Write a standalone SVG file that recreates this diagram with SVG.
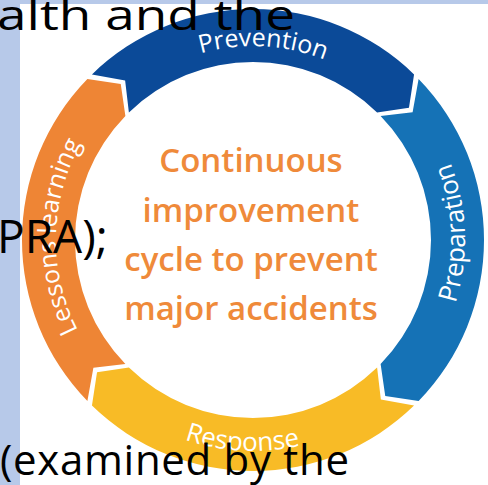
<svg xmlns="http://www.w3.org/2000/svg" width="488" height="485" viewBox="0 0 488 485">
  <style>
    .slide { font-family: "Open Sans", "Noto Sans", sans-serif; font-size: 42px; fill: #000; }
    .label { font-family: "Open Sans", "Noto Sans", sans-serif; font-size: 25px; fill: #fff; }
    .label.wide { font-size: 26px; }
    .centre { font-family: "Open Sans", "Noto Sans", sans-serif; font-size: 33px; font-weight: 600; fill: #EF8A3A; text-anchor: middle; }
  </style>
  <defs>
    <!-- one quarter of the ring, -135deg to -45deg, notched start and pointed end -->
    <path id="seg" d="M -161.05 -165.61 A 231 231 0 0 1 161.05 -165.61 L 155.97 -132.25 L 124.10 -127.61 A 178 178 0 0 0 -124.10 -127.61 L -127.86 -159.60 Z"/>
    <!-- label baselines -->
    <path id="arc-prevention" d="M -192.11 -27.00 A 194 194 0 0 1 193.88 -6.77"/>
    <path id="arc-preparation" d="M 25.84 210.42 A 212 212 0 0 0 11.10 -211.71"/>
    <path id="arc-response" d="M -210.87 7.36 A 211 211 0 0 0 208.95 29.36"/>
    <path id="arc-lessons" d="M -20.59 195.92 A 197 197 0 0 1 -13.74 -196.52"/>
  </defs>

  <!-- slide background -->
  <rect width="488" height="485" fill="#fff"/>
  <rect x="0" y="0" width="20" height="485" fill="#B7C9E9"/>
  <rect x="0" y="0" width="488" height="4" fill="#B7C9E9"/>

  <g id="cycle" transform="translate(253,240)">
    <g id="node-prevention">
      <use href="#seg" fill="#0B4A98"/>
      <text class="label"><textPath href="#arc-prevention" startOffset="50%" text-anchor="middle">Prevention</textPath></text>
    </g>
    <g id="node-preparation">
      <use href="#seg" fill="#1572B6" transform="rotate(90)"/>
      <text class="label wide"><textPath href="#arc-preparation" startOffset="50%" text-anchor="middle">Preparation</textPath></text>
    </g>
    <g id="node-response">
      <use href="#seg" fill="#F8BB26" transform="rotate(180)"/>
      <text class="label wide"><textPath href="#arc-response" startOffset="50%" text-anchor="middle">Response</textPath></text>
    </g>
    <g id="node-lessons">
      <use href="#seg" fill="#EE8535" transform="rotate(270)"/>
      <text class="label"><textPath href="#arc-lessons" startOffset="50%" text-anchor="middle">Lessons learning</textPath></text>
    </g>
    <g id="node-centre">
      <text class="centre" x="-2" y="-68">Continuous</text>
      <text class="centre" x="-2" y="-18">improvement</text>
      <text class="centre" x="-2" y="31">cycle to prevent</text>
      <text class="centre" x="-2" y="80">major accidents</text>
    </g>
  </g>

  <g id="connectors"/>

  <!-- slide text lying over the figure -->
  <g id="slide-text">
    <text class="slide" x="-3" y="30" textLength="298" lengthAdjust="spacingAndGlyphs">alth and the</text>
    <text class="slide" x="-3" y="253" style="font-size:46px">PRA);</text>
    <text class="slide" x="0" y="475" textLength="349" lengthAdjust="spacing">(examined by the</text>
  </g>
</svg>
